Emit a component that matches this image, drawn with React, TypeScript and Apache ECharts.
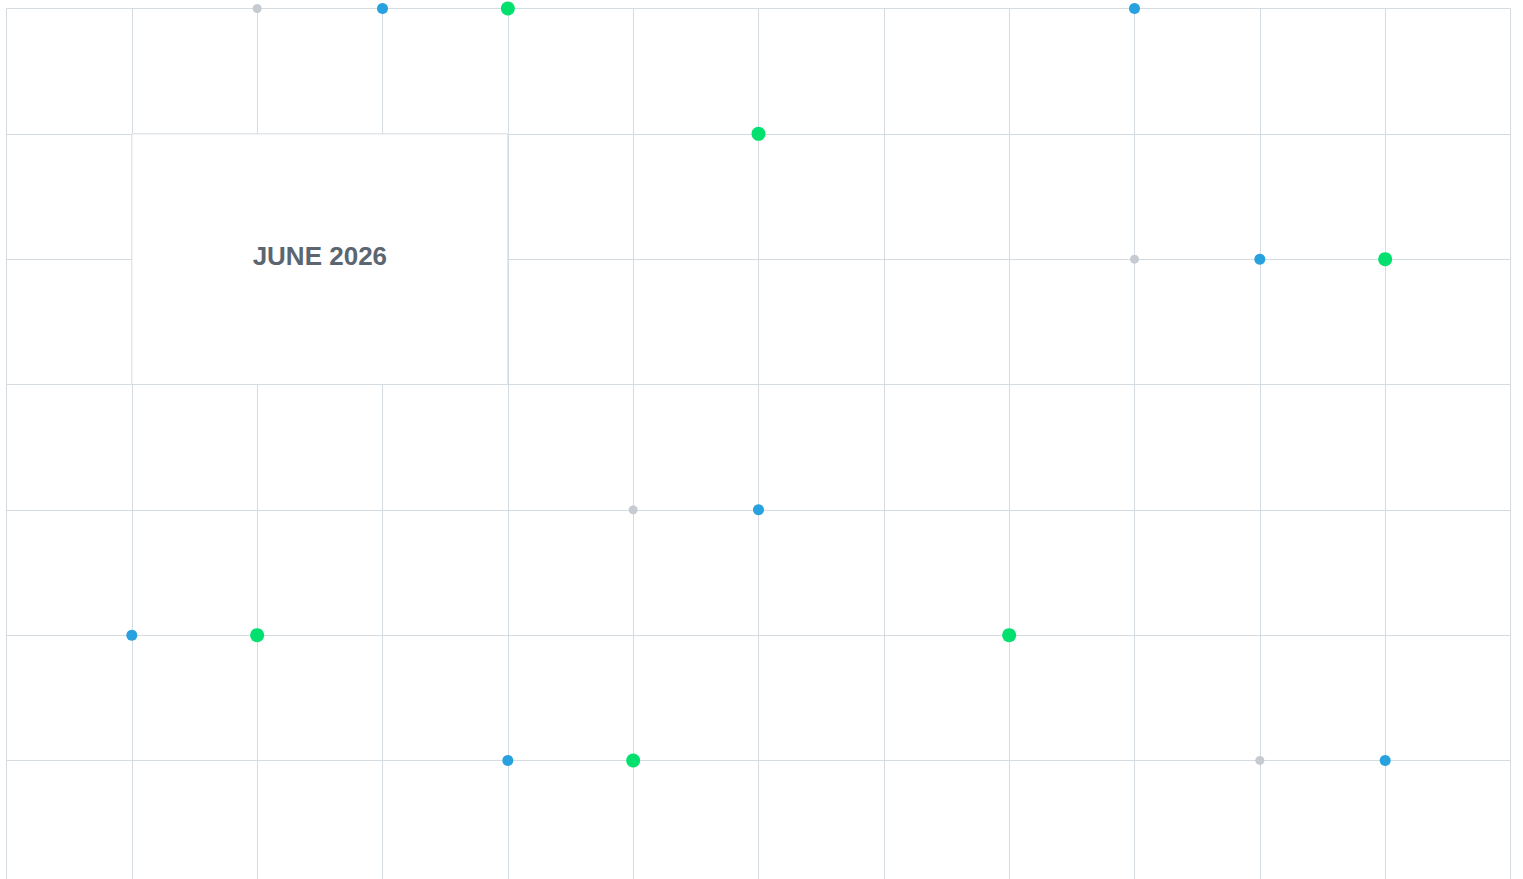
import React, { useEffect, useRef } from "react";
import * as echarts from "echarts";

// Column / row indices of the grid (x: 0..12, y: 0..7 from the top)
const xTicks = [0, 1, 2, 3, 4, 5, 6, 7, 8, 9, 10, 11, 12];
const yTicks = [0, 1, 2, 3, 4, 5, 6, 7];

const grayPoints: [number, number][] = [
  [2, 0],
  [9, 2],
  [5, 4],
  [10, 6],
];
const bluePoints: [number, number][] = [
  [3, 0],
  [9, 0],
  [10, 2],
  [6, 4],
  [1, 5],
  [4, 6],
  [11, 6],
];
const greenPoints: [number, number][] = [
  [4, 0],
  [6, 1],
  [11, 2],
  [2, 5],
  [8, 5],
  [5, 6],
];

const monthLabel = "JUNE 2026";
const monthBox: [[number, number], [number, number]] = [
  [1, 1],
  [4, 3],
];

const GRID_COLOR = "#d5dce1";

export default function App() {
  const ref = useRef<HTMLDivElement>(null);

  useEffect(() => {
    if (!ref.current) return;
    const chart = echarts.init(ref.current, undefined, { renderer: "svg" });
    const axisCommon = {
      type: "value" as const,
      interval: 1,
      axisLabel: { show: false },
      axisTick: { show: false },
      axisLine: { show: false },
      splitLine: { show: true, lineStyle: { color: GRID_COLOR, width: 1 } },
    };
    chart.setOption({
      animation: false,
      grid: { left: 6.5, top: 8.5, width: 1504, height: 877.3 },
      xAxis: { ...axisCommon, min: xTicks[0], max: xTicks[xTicks.length - 1] },
      yAxis: {
        ...axisCommon,
        inverse: true,
        min: yTicks[0],
        max: yTicks[yTicks.length - 1],
      },
      series: [
        {
          type: "scatter",
          name: "gray",
          data: grayPoints,
          symbolSize: 9,
          itemStyle: { color: "#c5cbd1", opacity: 1 },
          z: 3,
          markArea: {
            silent: true,
            itemStyle: {
              color: "#ffffff",
              opacity: 1,
              borderColor: GRID_COLOR,
              borderWidth: 1,
            },
            label: {
              show: true,
              position: "inside",
              offset: [0, -3],
              formatter: monthLabel,
              fontFamily: "Liberation Sans, Arial, sans-serif",
              fontWeight: "bold",
              fontSize: 26,
              color: "#5b6670",
            },
            data: [
              [
                { coord: monthBox[0] },
                { coord: monthBox[1] },
              ],
            ],
          },
        },
        {
          type: "scatter",
          name: "blue",
          data: bluePoints,
          symbolSize: 11,
          itemStyle: { color: "#27a2df", opacity: 1 },
          z: 4,
        },
        {
          type: "scatter",
          name: "green",
          data: greenPoints,
          symbolSize: 14,
          itemStyle: { color: "#03e06e", opacity: 1 },
          z: 5,
        },
      ],
    });
    return () => chart.dispose();
  }, []);

  return (
    <div
      style={{
        position: "absolute",
        left: 0,
        top: 0,
        width: 1523,
        height: 879,
        overflow: "hidden",
        background: "#ffffff",
      }}
    >
      <div ref={ref} style={{ width: 1523, height: 900 }} />
    </div>
  );
}
